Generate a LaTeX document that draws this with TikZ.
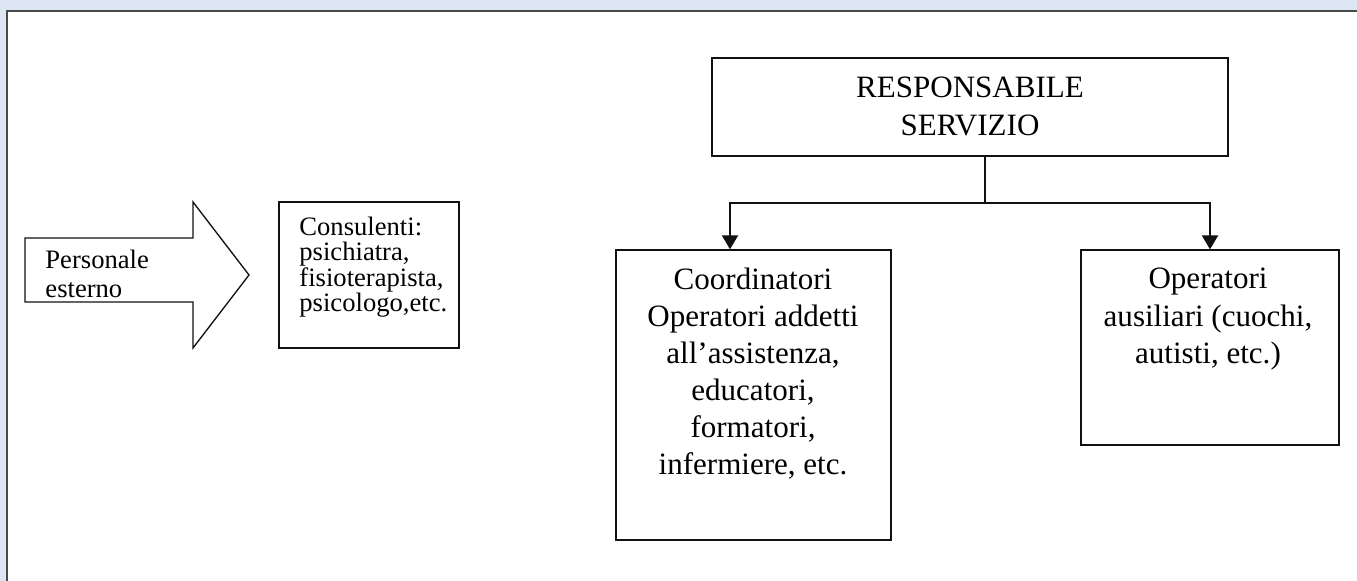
\documentclass[tikz,border=0pt]{standalone}
\usepackage{fontspec}
\setmainfont{Liberation Serif}
\usetikzlibrary{arrows.meta,positioning,calc,shadows}
\definecolor{cBack}{HTML}{DCE6F2}
\definecolor{cFrame}{HTML}{4A4A4A}
\definecolor{cLine}{HTML}{111111}
\definecolor{cShade}{HTML}{A6A6A6}
\tikzset{
  unitbox/.style={
    draw=cLine, line width=0.6pt, fill=white, inner sep=0pt,
    drop shadow={shadow xshift=0.45pt, shadow yshift=-0.45pt, fill=cShade, opacity=1},
  },
  smalltxt/.style={
    inner sep=0pt, align=left, font=\fontsize{12}{13.1}\selectfont,
  },
  bigtxt/.style={
    inner sep=0pt, align=center, font=\fontsize{14}{16.7}\selectfont,
  },
  arr/.style={
    -{Triangle[length=6.3pt,width=7.2pt]}, line width=0.9pt, draw=cLine,
  },
  link/.style={
    line width=0.7pt, draw=cLine,
  },
}

\begin{document}
\begin{tikzpicture}[x=0.451pt, y=-0.451pt]

% ═══════════════════════════════════════════════════════════════
%  PAGE  (one unit = one pixel of the sheet, y downwards)
% ═══════════════════════════════════════════════════════════════
\useasboundingbox (0,0) rectangle (1357,581);
\clip (0,0) rectangle (1357,581);
\fill[cBack] (0,0) rectangle (1357,581);
\draw[cFrame, line width=0.9pt, fill=white] (7,11) rectangle (1400,620);

% ── external staff ───────────────────────────────────────────
\draw[cLine, line width=0.6pt] (25,238) -- (193,238) -- (193,202) -- (249,275)
  -- (193,348) -- (193,302) -- (25,302) -- cycle;
\node[smalltxt, anchor=north west] (esterno) at (45,250)
  {Personale\\esterno};

\node[unitbox, minimum width=81.2pt, minimum height=65.8pt] (cons) at (369,275) {};
\node[smalltxt, anchor=north west, font=\fontsize{12}{11}\selectfont] (constxt) at (299,217)
  {Consulenti:\\psichiatra,\\fisioterapista,\\psicologo,etc.};

% ═══════════════════════════════════════════════════════════════
%  HEAD OF SERVICE
% ═══════════════════════════════════════════════════════════════
\node[unitbox, minimum width=232.7pt, minimum height=44.2pt] (resp) at (970,107) {};
\node[bigtxt, anchor=north] (resptxt) at (970,77)
  {RESPONSABILE\\SERVIZIO};

% ── staff boxes ──
\node[unitbox, minimum width=124pt, minimum height=130.8pt] (coord) at (753.5,395) {};
\node[bigtxt, anchor=north] (coordtxt) at (753,267.5)
  {Coordinatori\\Operatori addetti\\all’assistenza,\\educatori,\\formatori,\\infermiere, etc.};

\node[unitbox, minimum width=116.4pt, minimum height=87.9pt] (ausil) at (1210,347.5) {};
\node[bigtxt, anchor=north] (ausiltxt) at (1208,268)
  {Operatori\\ausiliari (cuochi,\\autisti, etc.)};

% ── connectors ──
\coordinate (split) at (985,203);
\coordinate (leftdrop) at (730,203);
\draw[link] (split |- resp.south) -- (split);
\draw[arr] (split) -- (leftdrop) -- (leftdrop |- coord.north);
\draw[arr] (split) -| (ausil.north);

\end{tikzpicture}
\end{document}
